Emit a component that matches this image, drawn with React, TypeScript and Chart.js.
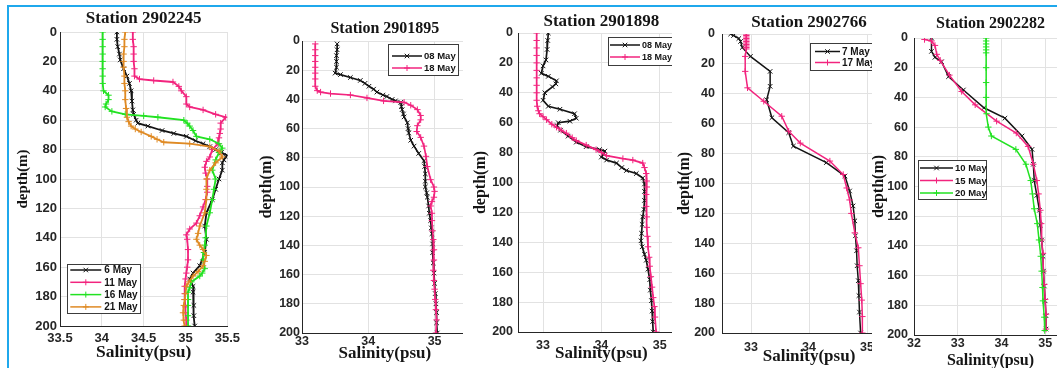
import React, { useEffect, useRef } from "react";
import { Chart, registerables } from "chart.js";

Chart.register(...registerables);

// ---------- colours ----------
const BLACK = "#141414";
const PINK = "#f2247e";
const GREEN = "#22e222";
const ORANGE = "#df8a24";
const GRID = "#e2e2e2";
const FRAME = "#1fa8ec";
const SERIF = "'Liberation Serif', 'Times New Roman', serif";
const SANS = "'Liberation Sans', Arial, sans-serif";

// ---------- tick values ----------
const depthTicks = [0, 20, 40, 60, 80, 100, 120, 140, 160, 180, 200];
const xTicks1 = [33.5, 34, 34.5, 35, 35.5];
const xTicks2 = [33, 34, 35];
const xTicks3 = [33, 34, 35];
const xTicks4 = [33, 34, 35];
const xTicks5 = [32, 33, 34, 35];

// ---------- Station 2902245 ----------
const s2245_may06_depth = [0, 5, 10, 15, 19, 25, 30, 35, 40, 47, 53, 56, 60, 62, 64, 67, 69, 71, 74, 76, 78, 80, 82, 84, 85, 87, 89, 94, 100, 107, 114, 123, 132, 141, 150, 159, 164, 168, 173, 177, 186, 193, 200];
const s2245_may06_sal = [34.18, 34.18, 34.19, 34.21, 34.22, 34.26, 34.30, 34.33, 34.35, 34.36, 34.37, 34.38, 34.41, 34.43, 34.55, 34.72, 34.86, 35.01, 35.12, 35.21, 35.29, 35.36, 35.43, 35.50, 35.48, 35.46, 35.44, 35.44, 35.40, 35.36, 35.32, 35.25, 35.23, 35.25, 35.23, 35.17, 35.09, 35.05, 35.09, 35.09, 35.10, 35.10, 35.11];
const s2245_may11_depth = [0, 5, 10, 15, 20, 25, 30, 32, 33, 34, 37, 40, 44, 49, 51, 53, 56, 58, 62, 66, 69, 72, 76, 80, 85, 88, 92, 96, 100, 105, 109, 114, 119, 125, 130, 134, 138, 141, 148, 155, 160, 164, 168, 173, 178, 182, 187, 191, 196, 200];
const s2245_may11_sal = [34.37, 34.37, 34.38, 34.38, 34.38, 34.39, 34.39, 34.45, 34.62, 34.85, 34.92, 34.95, 35.01, 35.01, 35.05, 35.21, 35.36, 35.48, 35.42, 35.42, 35.41, 35.40, 35.39, 35.32, 35.29, 35.25, 35.23, 35.24, 35.26, 35.26, 35.26, 35.24, 35.21, 35.17, 35.13, 35.05, 35.01, 35.02, 35.03, 35.03, 35.02, 35.01, 35.00, 34.99, 34.99, 34.99, 35.00, 35.00, 35.01, 35.01];
const s2245_may16_depth = [0, 5, 10, 15, 20, 25, 30, 35, 40, 43, 46, 49, 51, 54, 56, 57, 58, 60, 62, 64, 67, 71, 73, 76, 79, 82, 87, 94, 100, 107, 114, 123, 132, 140, 145, 150, 155, 161, 164, 166, 170, 174, 177, 182, 186, 193, 200];
const s2245_may16_sal = [34.01, 34.01, 34.01, 34.01, 34.01, 34.01, 34.01, 34.01, 34.02, 34.08, 34.08, 34.05, 34.04, 34.12, 34.28, 34.50, 34.67, 34.98, 35.02, 35.05, 35.09, 35.13, 35.29, 35.40, 35.44, 35.40, 35.36, 35.32, 35.36, 35.34, 35.32, 35.29, 35.25, 35.24, 35.23, 35.22, 35.21, 35.23, 35.20, 35.17, 35.07, 35.05, 35.03, 35.03, 35.03, 35.03, 35.03];
const s2245_may21_depth = [0, 5, 10, 15, 20, 24, 30, 35, 40, 46, 52, 58, 61, 64, 66, 68, 71, 73, 75, 76, 78, 81, 85, 89, 94, 100, 107, 114, 123, 132, 137, 141, 145, 148, 152, 156, 159, 163, 166, 170, 173, 178, 182, 186, 191, 196, 200];
const s2245_may21_sal = [34.28, 34.27, 34.27, 34.26, 34.26, 34.26, 34.27, 34.27, 34.28, 34.28, 34.29, 34.30, 34.32, 34.35, 34.40, 34.47, 34.59, 34.66, 34.74, 35.05, 35.29, 35.40, 35.44, 35.36, 35.29, 35.25, 35.25, 35.25, 35.23, 35.17, 35.15, 35.13, 35.17, 35.21, 35.25, 35.23, 35.21, 35.15, 35.09, 35.04, 35.01, 35.00, 34.99, 34.98, 34.97, 34.98, 34.99];

// ---------- Station 2901895 ----------
const s1895_may08_depth = [2, 6, 10, 14, 18, 22, 23, 25, 27, 29, 31, 33, 35, 37, 38, 40, 41, 42, 45, 47, 50, 52, 56, 60, 63, 68, 72, 77, 82, 86, 91, 96, 100, 104, 107, 113, 118, 123, 128, 132, 139, 145, 152, 159, 166, 173, 180, 186, 193, 200];
const s1895_may08_sal = [33.53, 33.53, 33.52, 33.52, 33.52, 33.50, 33.58, 33.73, 33.88, 33.95, 34.01, 34.08, 34.13, 34.22, 34.28, 34.36, 34.41, 34.49, 34.50, 34.51, 34.53, 34.54, 34.59, 34.60, 34.61, 34.64, 34.69, 34.76, 34.84, 34.85, 34.86, 34.86, 34.86, 34.88, 34.89, 34.91, 34.92, 34.94, 34.95, 34.96, 34.97, 34.97, 34.98, 34.99, 35.00, 35.01, 35.02, 35.03, 35.03, 35.04];
const s1895_may18_depth = [2, 6, 10, 14, 18, 22, 26, 31, 34, 35, 36, 37, 39, 41, 42, 44, 47, 51, 54, 58, 62, 66, 72, 79, 86, 95, 100, 103, 107, 110, 113, 118, 123, 130, 136, 143, 150, 157, 164, 170, 177, 184, 191, 200];
const s1895_may18_sal = [33.20, 33.20, 33.20, 33.20, 33.20, 33.20, 33.20, 33.20, 33.23, 33.28, 33.43, 33.73, 33.98, 34.23, 34.54, 34.64, 34.74, 34.79, 34.79, 34.74, 34.73, 34.79, 34.84, 34.87, 34.89, 34.94, 34.99, 35.00, 34.99, 34.96, 34.94, 34.96, 34.96, 34.97, 34.98, 34.99, 34.99, 34.98, 34.99, 35.00, 35.01, 35.02, 35.03, 35.02];

// ---------- Station 2901898 ----------
const s1898_may08_depth = [0, 5, 11, 18, 22, 27, 29, 32, 34, 36, 40, 45, 49, 51, 54, 57, 59, 60, 62, 65, 69, 73, 76, 78, 79, 81, 83, 85, 87, 90, 92, 94, 97, 101, 106, 112, 118, 123, 128, 134, 139, 143, 148, 152, 158, 165, 172, 179, 186, 193, 200];
const s1898_may08_sal = [33.09, 33.08, 33.07, 33.05, 33.00, 32.97, 33.09, 33.23, 33.22, 33.16, 33.03, 33.00, 33.09, 33.29, 33.54, 33.57, 33.46, 33.26, 33.24, 33.30, 33.43, 33.57, 33.74, 33.97, 34.06, 34.04, 34.00, 34.09, 34.26, 34.35, 34.43, 34.60, 34.71, 34.74, 34.74, 34.74, 34.73, 34.71, 34.70, 34.69, 34.68, 34.70, 34.74, 34.77, 34.80, 34.83, 34.84, 34.86, 34.87, 34.88, 34.89];
const s1898_may18_depth = [0, 5, 10, 15, 20, 25, 30, 35, 40, 45, 49, 52, 54, 56, 58, 61, 63, 65, 67, 70, 72, 75, 78, 80, 82, 84, 85, 87, 90, 94, 99, 103, 108, 116, 123, 130, 136, 143, 150, 156, 163, 170, 177, 183, 190, 200];
const s1898_may18_sal = [32.89, 32.89, 32.89, 32.89, 32.89, 32.89, 32.89, 32.89, 32.89, 32.89, 32.90, 32.92, 32.94, 33.00, 33.06, 33.15, 33.23, 33.31, 33.40, 33.50, 33.57, 33.74, 33.91, 34.00, 34.09, 34.37, 34.54, 34.71, 34.74, 34.77, 34.78, 34.78, 34.77, 34.77, 34.78, 34.78, 34.79, 34.80, 34.82, 34.83, 34.85, 34.87, 34.89, 34.91, 34.92, 34.94];

// ---------- Station 2902766 ----------
const s2766_may07_depth = [0, 1, 3, 5, 9, 15, 25, 35, 44, 56, 66, 75, 86, 95, 105, 115, 125, 135, 145, 155, 165, 175, 186, 200];
const s2766_may07_sal = [32.65, 32.70, 32.79, 32.82, 32.85, 32.99, 33.33, 33.33, 33.27, 33.36, 33.65, 33.73, 34.30, 34.62, 34.70, 34.76, 34.79, 34.80, 34.82, 34.83, 34.85, 34.86, 34.87, 34.89];
const s2766_may17_depth = [0, 1, 2, 3, 4, 5, 6, 7, 8, 9, 10, 15, 25, 36, 45, 55, 65, 73, 85, 94, 103, 111, 120, 133, 143, 155, 167, 178, 189, 200];
const s2766_may17_sal = [32.92, 32.92, 32.92, 32.92, 32.92, 32.92, 32.92, 32.92, 32.92, 32.92, 32.92, 32.90, 32.90, 32.94, 33.22, 33.53, 33.65, 33.85, 34.36, 34.59, 34.65, 34.70, 34.73, 34.79, 34.85, 34.87, 34.89, 34.91, 34.92, 34.92];

// ---------- Station 2902282 ----------
const s2282_may10_depth = [0, 9, 13, 16, 26, 35, 47, 54, 66, 75, 85, 96, 106, 116, 126, 136, 147, 157, 167, 177, 187, 196];
const s2282_may10_sal = [32.40, 32.40, 32.48, 32.63, 32.79, 33.13, 33.60, 34.08, 34.47, 34.70, 34.73, 34.75, 34.81, 34.87, 34.89, 34.92, 34.95, 34.96, 34.98, 35.00, 35.02, 35.02];
const s2282_may15_depth = [1, 2, 5, 11, 15, 25, 36, 45, 56, 64, 73, 85, 96, 105, 116, 125, 136, 145, 157, 166, 176, 186, 196];
const s2282_may15_sal = [32.24, 32.40, 32.48, 32.52, 32.60, 32.81, 33.09, 33.40, 33.89, 34.34, 34.61, 34.73, 34.81, 34.85, 34.89, 34.91, 34.92, 34.95, 34.96, 34.98, 35.00, 35.02, 35.02];
const s2282_may20_depth = [0, 2, 4, 6, 8, 10, 20, 30, 40, 51, 60, 66, 75, 85, 96, 105, 115, 125, 136, 147, 157, 168, 177, 188, 197];
const s2282_may20_sal = [33.65, 33.65, 33.65, 33.65, 33.65, 33.65, 33.65, 33.65, 33.65, 33.66, 33.70, 33.77, 34.33, 34.56, 34.67, 34.71, 34.75, 34.82, 34.86, 34.90, 34.92, 34.94, 34.95, 34.98, 34.99];

type Series = { label: string; depth: number[]; sal: number[]; color: string; marker: "crossRot" | "cross" };

type LegendOpts = { x: number; y: number; w: number; h: number; first: number; rowH: number; lx0: number; lx1: number; tx: number; fontSize: number };

type PanelCfg = {
  left: number; width: number; canvasW: number;
  yW: number; xH: number; padRight: number;
  xMin: number; xMax: number; xTicks: number[];
  title: string; titleSize: number; titlePadTop: number; titlePadBottom: number;
  yTitleSize: number; yTitlePad: number; xTitleSize: number; xTitlePad: number;
  tickSize: number; xTickPad: number; yTickPad: number;
  lineW: number;
  legend: LegendOpts;
  series: Series[];
};

const TOP = 7;
const H = 361;

function drawMarker(ctx: CanvasRenderingContext2D, style: string, x: number, y: number, r: number, color: string) {
  ctx.save();
  ctx.strokeStyle = color;
  ctx.lineWidth = 1;
  ctx.beginPath();
  if (style === "crossRot") {
    const d = r * 0.75;
    ctx.moveTo(x - d, y - d); ctx.lineTo(x + d, y + d);
    ctx.moveTo(x - d, y + d); ctx.lineTo(x + d, y - d);
  } else {
    ctx.moveTo(x - r, y); ctx.lineTo(x + r, y);
    ctx.moveTo(x, y - r); ctx.lineTo(x, y + r);
  }
  ctx.stroke();
  ctx.restore();
}

const boxLegend = {
  id: "boxLegend",
  afterDraw(chart: any, _args: any, o: any) {
    if (!o || o.w === undefined) return;
    const ctx: CanvasRenderingContext2D = chart.ctx;
    ctx.save();
    ctx.fillStyle = "#ffffff";
    ctx.fillRect(o.x, o.y, o.w, o.h);
    ctx.strokeStyle = "#3c3c3c";
    ctx.lineWidth = 1;
    ctx.strokeRect(Math.round(o.x) + 0.5, Math.round(o.y) + 0.5, Math.round(o.w), Math.round(o.h));
    ctx.font = `bold ${o.fontSize}px ${SANS}`;
    ctx.textBaseline = "middle";
    ctx.textAlign = "left";
    chart.data.datasets.forEach((ds: any, i: number) => {
      const cy = o.y + o.first + i * o.rowH;
      const x0 = o.x + o.lx0;
      const x1 = o.x + o.lx1;
      ctx.strokeStyle = ds.borderColor;
      ctx.lineWidth = 1.5;
      ctx.beginPath();
      ctx.moveTo(x0, cy);
      ctx.lineTo(x1, cy);
      ctx.stroke();
      drawMarker(ctx, ds.pointStyle, (x0 + x1) / 2, cy, 3, ds.borderColor);
      ctx.fillStyle = "#141414";
      ctx.fillText(ds.label, o.x + o.tx, cy + 0.5);
    });
    ctx.restore();
  },
};

const panels: PanelCfg[] = [
  {
    left: 10, width: 235, canvasW: 235, yW: 50, xH: 42, padRight: 13,
    xMin: 33.5, xMax: 35.5, xTicks: xTicks1,
    title: "Station 2902245", titleSize: 17, titlePadTop: 3, titlePadBottom: 5,
    yTitleSize: 15, yTitlePad: 5.5, xTitleSize: 17.5, xTitlePad: 7,
    tickSize: 13, xTickPad: 5, yTickPad: 3, lineW: 1.8,
    legend: { x: 57.3, y: 257, w: 73, h: 49, first: 6, rowH: 12.3, lx0: 3, lx1: 34, tx: 37, fontSize: 10 },
    series: [
      { label: "6 May", depth: s2245_may06_depth, sal: s2245_may06_sal, color: BLACK, marker: "crossRot" },
      { label: "11 May", depth: s2245_may11_depth, sal: s2245_may11_sal, color: PINK, marker: "cross" },
      { label: "16 May", depth: s2245_may16_depth, sal: s2245_may16_sal, color: GREEN, marker: "cross" },
      { label: "21 May", depth: s2245_may21_depth, sal: s2245_may21_sal, color: ORANGE, marker: "cross" },
    ],
  },
  {
    left: 245, width: 218, canvasW: 230, yW: 57, xH: 35, padRight: 7.25,
    xMin: 33, xMax: 35.5, xTicks: xTicks2,
    title: "Station 2901895", titleSize: 16, titlePadTop: 14, titlePadBottom: 4,
    yTitleSize: 16, yTitlePad: 14, xTitleSize: 17, xTitlePad: 5.5,
    tickSize: 12.5, xTickPad: 1, yTickPad: 2, lineW: 1.7,
    legend: { x: 143, y: 37, w: 70, h: 31, first: 12, rowH: 12, lx0: 4, lx1: 34, tx: 36, fontSize: 9.5 },
    series: [
      { label: "08 May", depth: s1895_may08_depth, sal: s1895_may08_sal, color: BLACK, marker: "crossRot" },
      { label: "18 May", depth: s1895_may18_depth, sal: s1895_may18_sal, color: PINK, marker: "cross" },
    ],
  },
  {
    left: 463, width: 209, canvasW: 230, yW: 55, xH: 36, padRight: 8.3,
    xMin: 32.57, xMax: 35.43, xTicks: xTicks3,
    title: "Station 2901898", titleSize: 17, titlePadTop: 6.5, titlePadBottom: 2.5,
    yTitleSize: 16, yTitlePad: 10, xTitleSize: 17, xTitlePad: 5.5,
    tickSize: 12.5, xTickPad: 6, yTickPad: 5, lineW: 1.7,
    legend: { x: 145, y: 30, w: 70, h: 28, first: 8, rowH: 12, lx0: 2, lx1: 32, tx: 34, fontSize: 9 },
    series: [
      { label: "08 May", depth: s1898_may08_depth, sal: s1898_may08_sal, color: BLACK, marker: "crossRot" },
      { label: "18 May", depth: s1898_may18_depth, sal: s1898_may18_sal, color: PINK, marker: "cross" },
    ],
  },
  {
    left: 672, width: 200, canvasW: 235, yW: 50, xH: 35, padRight: 11,
    xMin: 32.5, xMax: 35.5, xTicks: xTicks4,
    title: "Station 2902766", titleSize: 17, titlePadTop: 7.5, titlePadBottom: 2.5,
    yTitleSize: 16, yTitlePad: 5, xTitleSize: 17, xTitlePad: 2.5,
    tickSize: 12.5, xTickPad: 7, yTickPad: 7, lineW: 1.5,
    legend: { x: 138, y: 36, w: 70, h: 27, first: 8.5, rowH: 11, lx0: 5, lx1: 30, tx: 32, fontSize: 10 },
    series: [
      { label: "7 May", depth: s2766_may07_depth, sal: s2766_may07_sal, color: BLACK, marker: "crossRot" },
      { label: "17 May", depth: s2766_may17_depth, sal: s2766_may17_sal, color: PINK, marker: "cross" },
    ],
  },
  {
    left: 872, width: 185, canvasW: 200, yW: 42, xH: 33, padRight: 5,
    xMin: 32, xMax: 35.5, xTicks: xTicks5,
    title: "Station 2902282", titleSize: 16, titlePadTop: 8.5, titlePadBottom: 6.5,
    yTitleSize: 16, yTitlePad: -1, xTitleSize: 16, xTitlePad: -1,
    tickSize: 12.5, xTickPad: 1, yTickPad: 6, lineW: 1.5,
    legend: { x: 46, y: 153, w: 68, h: 39, first: 8, rowH: 12.5, lx0: 2, lx1: 35, tx: 37, fontSize: 9.5 },
    series: [
      { label: "10 May", depth: s2282_may10_depth, sal: s2282_may10_sal, color: BLACK, marker: "crossRot" },
      { label: "15 May", depth: s2282_may15_depth, sal: s2282_may15_sal, color: PINK, marker: "cross" },
      { label: "20 May", depth: s2282_may20_depth, sal: s2282_may20_sal, color: GREEN, marker: "cross" },
    ],
  },
];

function Panel({ cfg }: { cfg: PanelCfg }) {
  const ref = useRef<HTMLCanvasElement | null>(null);
  useEffect(() => {
    const canvas = ref.current;
    if (!canvas) return;
    const n = cfg.series.length;
    const datasets = cfg.series.map((s, i) => ({
      label: s.label,
      data: s.depth.map((d, k) => ({ x: s.sal[k], y: d })),
      showLine: true,
      borderColor: s.color,
      backgroundColor: s.color,
      borderWidth: cfg.lineW,
      pointStyle: s.marker,
      pointRadius: 3.2,
      pointBorderWidth: 1,
      pointBorderColor: s.color,
      pointBackgroundColor: s.color,
      tension: 0,
      order: n - i,
    }));
    const chart = new Chart(canvas, {
      type: "scatter",
      data: { datasets } as any,
      options: {
        responsive: false,
        maintainAspectRatio: false,
        animation: false,
        layout: { padding: { left: 0, right: cfg.padRight, top: 0, bottom: 0 } },
        plugins: {
          legend: { display: false },
          tooltip: { enabled: false },
          title: {
            display: true,
            text: cfg.title,
            fullSize: false,
            color: "#151515",
            font: { family: SERIF, weight: "bold", size: cfg.titleSize, lineHeight: 1 },
            padding: { top: cfg.titlePadTop, bottom: cfg.titlePadBottom },
          },
          boxLegend: cfg.legend,
        } as any,
        scales: {
          x: {
            type: "linear",
            position: "bottom",
            min: cfg.xMin,
            max: cfg.xMax,
            afterBuildTicks: (s: any) => { s.ticks = cfg.xTicks.map((v) => ({ value: v })); },
            afterFit: (s: any) => { s.height = cfg.xH; },
            ticks: {
              autoSkip: false,
              maxRotation: 0,
              padding: cfg.xTickPad,
              color: "#262626",
              font: { family: SANS, weight: "bold", size: cfg.tickSize },
              callback: (v: any) => String(v),
            },
            grid: { color: GRID, drawTicks: false, lineWidth: 1 },
            border: { display: true, color: "#262626", width: 1 },
            title: {
              display: true,
              text: "Salinity(psu)",
              color: "#151515",
              font: { family: SERIF, weight: "bold", size: cfg.xTitleSize, lineHeight: 1 },
              padding: { top: 0, bottom: cfg.xTitlePad },
            },
          },
          y: {
            type: "linear",
            position: "left",
            reverse: true,
            min: 0,
            max: 200,
            afterBuildTicks: (s: any) => { s.ticks = depthTicks.map((v) => ({ value: v })); },
            afterFit: (s: any) => { s.width = cfg.yW; },
            ticks: {
              autoSkip: false,
              padding: cfg.yTickPad,
              color: "#262626",
              font: { family: SANS, weight: "bold", size: cfg.tickSize },
              callback: (v: any) => String(v),
            },
            grid: { color: GRID, drawTicks: false, lineWidth: 1 },
            border: { display: true, color: "#262626", width: 1 },
            title: {
              display: true,
              text: "depth(m)",
              color: "#151515",
              font: { family: SERIF, weight: "bold", size: cfg.yTitleSize, lineHeight: 1 },
              padding: { top: cfg.yTitlePad, bottom: 0 },
            },
          },
        } as any,
      },
      plugins: [boxLegend as any],
    });
    return () => chart.destroy();
  }, [cfg]);
  return (
    <div style={{ position: "absolute", left: cfg.left, top: TOP, width: cfg.width, height: H, overflow: "hidden", background: "#fff" }}>
      <canvas ref={ref} width={cfg.canvasW} height={H} style={{ display: "block", width: cfg.canvasW, height: H }} />
    </div>
  );
}

export default function App() {
  return (
    <div style={{ position: "absolute", left: 0, top: 0, width: 1057, height: 368, background: "#ffffff", overflow: "hidden" }}>
      {panels.map((p) => (
        <Panel key={p.title} cfg={p} />
      ))}
      <div style={{ position: "absolute", left: 7, top: 5, width: 1050, height: 2, background: FRAME }} />
      <div style={{ position: "absolute", left: 7, top: 5, width: 2, height: 363, background: FRAME }} />
    </div>
  );
}
